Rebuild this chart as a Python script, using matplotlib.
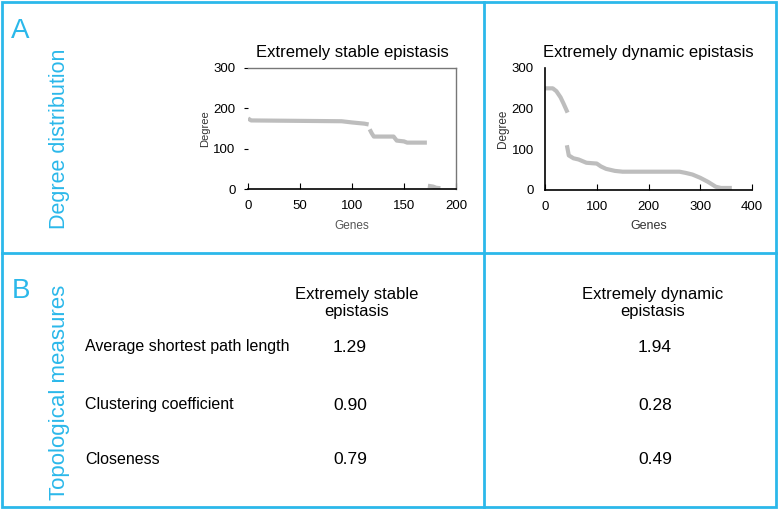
import matplotlib.pyplot as plt
from matplotlib.lines import Line2D
from matplotlib.patches import Rectangle

plt.rcParams['font.family'] = ['Liberation Sans', 'DejaVu Sans']

CYAN = '#2bb8ea'
GREY = '#bdbdbd'

# degree distributions, breakpoints (genes ranked by degree)
stable_genes = [0, 3, 90, 100, 112, 116]
stable_degree = [175, 170, 168, 165, 162, 160]
stable_genes_mid = [117, 119, 121, 140, 143, 150, 153, 172]
stable_degree_mid = [148, 138, 130, 130, 120, 118, 115, 115]
stable_genes_tail = [173, 178, 181, 185]
stable_degree_tail = [8, 6, 3, 2]

dynamic_genes_hi = [0, 15, 22, 30, 36, 42]
dynamic_degree_hi = [250, 250, 243, 228, 212, 195]
dynamic_genes_lo = [43, 46, 55, 65, 80, 100, 108, 118, 135, 150, 260, 272, 285, 300, 315, 330, 340, 357]
dynamic_degree_lo = [105, 85, 78, 75, 67, 65, 58, 52, 47, 45, 45, 42, 38, 30, 20, 8, 5, 5]

# topological measures table
measures = ['Average shortest path length', 'Clustering coefficient', 'Closeness']
stable_values = ['1.29', '0.90', '0.79']
dynamic_values = ['1.94', '0.28', '0.49']
col_headers = ['Extremely stable\nepistasis', 'Extremely dynamic\nepistasis']

W, H = 778, 509
fig = plt.figure(figsize=(W / 100, H / 100), dpi=100)


def fx(px):
    return px / W


def fy(py):
    return 1 - py / H


# panel borders
fig.add_artist(Rectangle((fx(2), fy(507)), fx(774), 505 / H, transform=fig.transFigure,
                         fill=False, edgecolor=CYAN, linewidth=2))
fig.add_artist(Line2D([fx(2), fx(776)], [fy(253), fy(253)], transform=fig.transFigure,
                      color=CYAN, linewidth=2))
fig.add_artist(Line2D([fx(484), fx(484)], [fy(2), fy(507)], transform=fig.transFigure,
                      color=CYAN, linewidth=2))

# panel letters and side labels
fig.text(fx(11), fy(38), 'A', color=CYAN, fontsize=20, ha='left', va='baseline')
fig.text(fx(12), fy(298), 'B', color=CYAN, fontsize=20, ha='left', va='baseline')
fig.text(fx(60), fy(139), 'Degree distribution', color=CYAN, fontsize=15.5,
         rotation=90, ha='center', va='center')
fig.text(fx(60), fy(392), 'Topological measures', color=CYAN, fontsize=16,
         rotation=90, ha='center', va='center')

# left plot: stable epistasis
ax1 = fig.add_axes([fx(248), fy(189), fx(456) - fx(248), fy(68) - fy(189)])
for gx, gy in [(stable_genes, stable_degree), (stable_genes_mid, stable_degree_mid),
               (stable_genes_tail, stable_degree_tail)]:
    ax1.plot(gx, gy, color=GREY, linewidth=3, solid_capstyle='butt')
ax1.set_xlim(0, 200)
ax1.set_ylim(0, 300)
ax1.set_xticks([0, 50, 100, 150, 200])
ax1.set_yticks([0, 100, 200, 300])
ax1.spines['left'].set_visible(False)
for s in ['top', 'right']:
    ax1.spines[s].set_color('#777777')
    ax1.spines[s].set_linewidth(1)
ax1.spines['bottom'].set_linewidth(1.2)
ax1.tick_params(axis='x', direction='in', length=4, labelsize=9.5, pad=8)
ax1.tick_params(axis='y', direction='out', length=3, labelsize=9.5, pad=6)
ax1.set_title('Extremely stable epistasis', fontsize=12, pad=8)
ax1.set_xlabel('Genes', fontsize=8.5, color='#555555', labelpad=6)
ax1.set_ylabel('Degree', fontsize=8, color='#333333', labelpad=2)

# right plot: dynamic epistasis
ax2 = fig.add_axes([fx(545), fy(190), fx(752) - fx(545), fy(68) - fy(190)])
ax2.plot(dynamic_genes_hi, dynamic_degree_hi, color=GREY, linewidth=3)
ax2.plot(dynamic_genes_lo, dynamic_degree_lo, color=GREY, linewidth=3)
ax2.set_xlim(0, 400)
ax2.set_ylim(0, 300)
ax2.set_xticks([0, 100, 200, 300, 400])
ax2.set_yticks([0, 100, 200, 300])
for s in ['top', 'right']:
    ax2.spines[s].set_visible(False)
ax2.spines['left'].set_linewidth(1.2)
ax2.spines['bottom'].set_linewidth(1.2)
ax2.tick_params(axis='x', direction='in', length=4, labelsize=9.5, pad=8)
ax2.tick_params(axis='y', direction='in', length=0, labelsize=9.5, pad=8)
ax2.set_title('Extremely dynamic epistasis', fontsize=12, pad=8)
ax2.set_xlabel('Genes', fontsize=9, color='#333333', labelpad=5)
ax2.set_ylabel('Degree', fontsize=8.5, color='#333333', labelpad=2)

# bottom table
fig.text(fx(357), fy(303), col_headers[0], fontsize=12, ha='center', va='center', linespacing=1.15)
fig.text(fx(653), fy(303), col_headers[1], fontsize=12, ha='center', va='center', linespacing=1.15)
row_y = [347, 405, 459]
for name, v1, v2, y in zip(measures, stable_values, dynamic_values, row_y):
    fig.text(fx(85), fy(y), name, fontsize=11.5, ha='left', va='center')
    fig.text(fx(350), fy(y), v1, fontsize=12.5, ha='center', va='center')
    fig.text(fx(655), fy(y), v2, fontsize=12.5, ha='center', va='center')

fig.savefig('out.png', dpi=100)
